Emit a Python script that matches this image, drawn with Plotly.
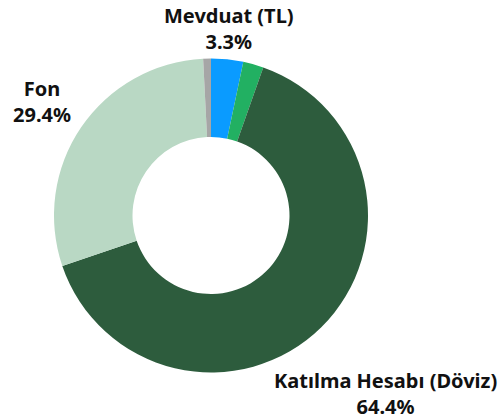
import plotly.graph_objects as go

labels = ["Mevduat (TL)", "Katılma Hesabı (TL)", "Katılma Hesabı (Döviz)", "Fon", "Diğer"]
values = [3.3, 2.1, 64.4, 29.4, 0.8]
colors = ["#0a9bff", "#22b062", "#2d5c3d", "#b9d8c4", "#a6a6a6"]

# labels shown on the chart: (index, x-center px, y-center px)
shown = [(0, 228.5, 28.5), (3, 41.5, 101.5), (2, 385, 393)]

W, H = 500, 418
cx, cy, r = 211, 215.5, 157
fig = go.Figure(go.Pie(
    labels=labels,
    values=values,
    textinfo="none",
    sort=False,
    direction="clockwise",
    rotation=0,
    hole=0.5,
    marker=dict(colors=colors, line=dict(width=0)),
    domain=dict(x=[(cx - r) / W, (cx + r) / W], y=[(H - cy - r) / H, (H - cy + r) / H]),
    showlegend=False,
    hoverinfo="label+percent",
))
for i, x, y in shown:
    fig.add_annotation(
        x=x / W, y=1 - y / H, xref="paper", yref="paper",
        xanchor="center", yanchor="middle", showarrow=False,
        text=f"<b>{labels[i]}<br>{values[i]:.1f}%</b>",
        font=dict(family="Noto Sans", size=20, color="#111111"),
        align="center",
    )
fig.update_layout(
    width=W, height=H,
    margin=dict(l=0, r=0, t=0, b=0),
    paper_bgcolor="white",
    plot_bgcolor="white",
)
fig.write_html(
    "out.html",
    config={"displayModeBar": False},
    post_script="document.body.style.margin='0';document.body.style.overflow='hidden';",
)
